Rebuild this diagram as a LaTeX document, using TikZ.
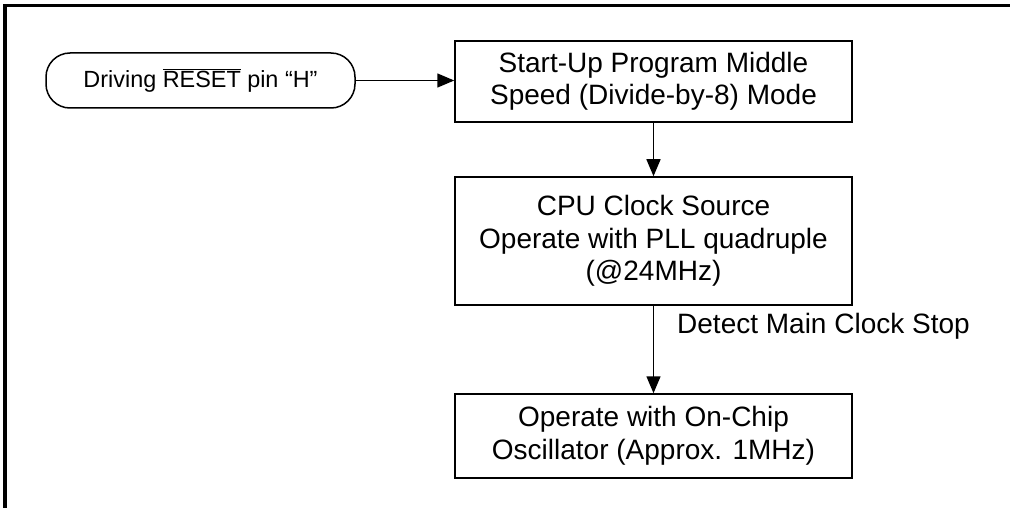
\documentclass[tikz,border=0pt]{standalone}
\usepackage{fontspec}
\setmainfont{Liberation Sans}
\usetikzlibrary{arrows.meta}

\tikzset{
  frameline/.style={line width=3.4pt, line join=miter},
  procbox/.style={draw, line width=1.5pt, rectangle, minimum width=397pt,
    inner sep=0pt, align=center, font=\fontsize{28}{32.5}\selectfont},
  termbox/.style={draw, line width=1.5pt, rectangle, rounded corners=24pt,
    minimum width=309pt, minimum height=55pt, inner sep=0pt,
    font=\fontsize{23.4}{27}\selectfont},
  flow/.style={line width=1.5pt, -{Triangle[length=17pt,width=14pt]}},
  lbl/.style={inner sep=0pt, font=\fontsize{28}{32.5}\selectfont}
}

\begin{document}
\begin{tikzpicture}[x=1pt, y=-1pt]
  \useasboundingbox (0,0) rectangle (1010,508);

  % open frame: top and left edges
  \draw[frameline] (1010,5.8) -- (5,5.8) -- (5,508);

  % flow nodes
  \node[termbox] (reset) at (200.5,80.5)
    {Driving $\overline{\mbox{RESET}}$ pin “H”};
  \node[procbox, minimum height=81pt] (startup) at (653.5,81.5)
    {Start-Up Program Middle\\Speed (Divide-by-8) Mode};
  \node[procbox, minimum height=128pt] (pll) at (653.5,241)
    {CPU Clock Source\\Operate with PLL quadruple\\(@24MHz)};
  \node[procbox, minimum height=84pt] (onchip) at (653.5,436)
    {Operate with On-Chip\\Oscillator (Approx. 1MHz)};

  % transition label
  \node[lbl, anchor=west] (detect) at (677,326) {Detect Main Clock Stop};

  % connectors
  \draw[flow] (reset.east) -- (startup.west |- reset.east);
  \draw[flow] (startup.south) -- (pll.north);
  \draw[flow] (pll.south) -- (onchip.north);
\end{tikzpicture}
\end{document}
